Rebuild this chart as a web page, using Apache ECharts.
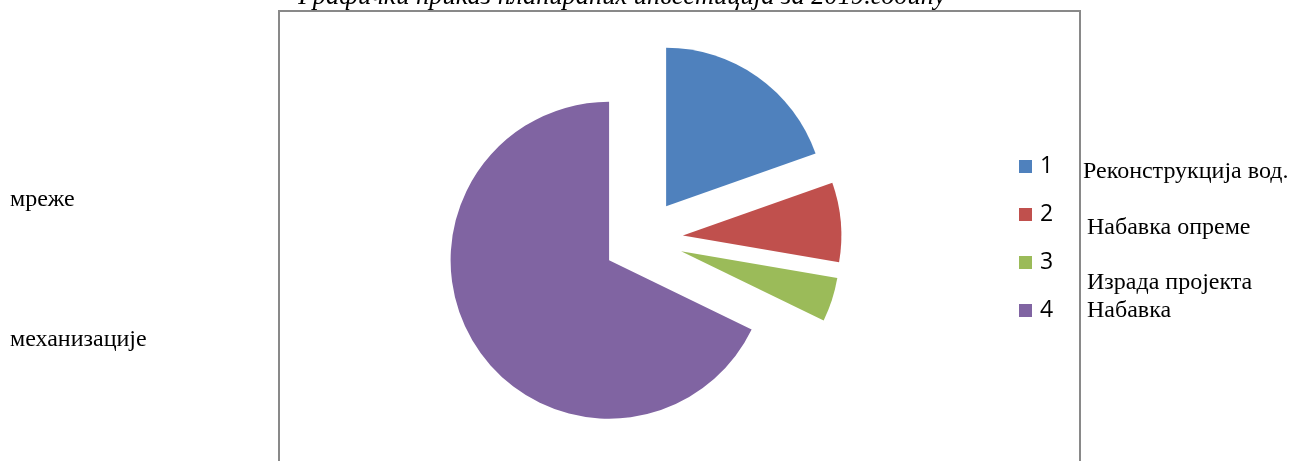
<!DOCTYPE html>
<html>
<head>
<meta charset="utf-8">
<script src="https://cdn.jsdelivr.net/npm/echarts@6/dist/echarts.min.js"></script>
<style>
html,body{margin:0;padding:0;background:#fff;}
#main{width:1293px;height:461px;}
</style>
</head>
<body>
<div id="main"></div>
<script>
var title = 'Графички приказ планираних инвестиција за 2019.годину';
var categories = ['1', '2', '3', '4'];
var shares = [19.6, 8.1, 4.5, 67.8];
var colors = ['#4F81BD', '#C0504D', '#9BBB59', '#8064A2'];
var rightTexts = ['Реконструкција вод.', 'Набавка опреме', 'Израда пројекта', 'Набавка'];
var leftTexts = ['мреже', 'механизације'];

var serif = '"Liberation Serif", "DejaVu Serif", serif';
var rightPos = [[1083, 172], [1087, 228], [1087, 283], [1087, 311]];
var leftPos = [[10, 200], [10, 340]];

var graphics = [
  {type: 'rect', shape: {x: 279, y: 11, width: 801, height: 500},
   style: {fill: 'none', stroke: '#898989', lineWidth: 2}, z: 0},
  {type: 'text', x: 622, y: 11, style: {text: title, font: 'italic 26.5px ' + serif,
   fill: '#000', align: 'center', verticalAlign: 'bottom'}}
];
rightTexts.forEach(function (t, i) {
  graphics.push({type: 'text', x: rightPos[i][0], y: rightPos[i][1],
    style: {text: t, font: '24px ' + serif, fill: '#000', align: 'left', verticalAlign: 'middle'}});
});
leftTexts.forEach(function (t, i) {
  graphics.push({type: 'text', x: leftPos[i][0], y: leftPos[i][1],
    style: {text: t, font: '24px ' + serif, fill: '#000', align: 'left', verticalAlign: 'middle'}});
});

var chart = echarts.init(document.getElementById('main'));
chart.setOption({
  animation: false,
  backgroundColor: '#fff',
  color: colors,
  graphic: graphics,
  legend: {
    orient: 'vertical',
    left: 1019,
    top: 155,
    padding: 0,
    itemWidth: 13,
    itemHeight: 13,
    itemGap: 25,
    icon: 'rect',
    selectedMode: false,
    data: categories,
    textStyle: {fontFamily: '"Open Sans", Lato, sans-serif', fontSize: 23, color: '#000', lineHeight: 23, padding: [0, 0, 0, 3]}
  },
  series: [{
    type: 'pie',
    center: [643, 239],
    radius: 158.5,
    startAngle: 90,
    clockwise: true,
    selectedMode: 'multiple',
    selectedOffset: 40,
    label: {show: false},
    labelLine: {show: false},
    emphasis: {disabled: true},
    select: {itemStyle: {borderWidth: 0}},
    itemStyle: {borderWidth: 0},
    data: categories.map(function (c, i) {
      return {name: c, value: shares[i], selected: true};
    })
  }]
});
</script>
</body>
</html>
